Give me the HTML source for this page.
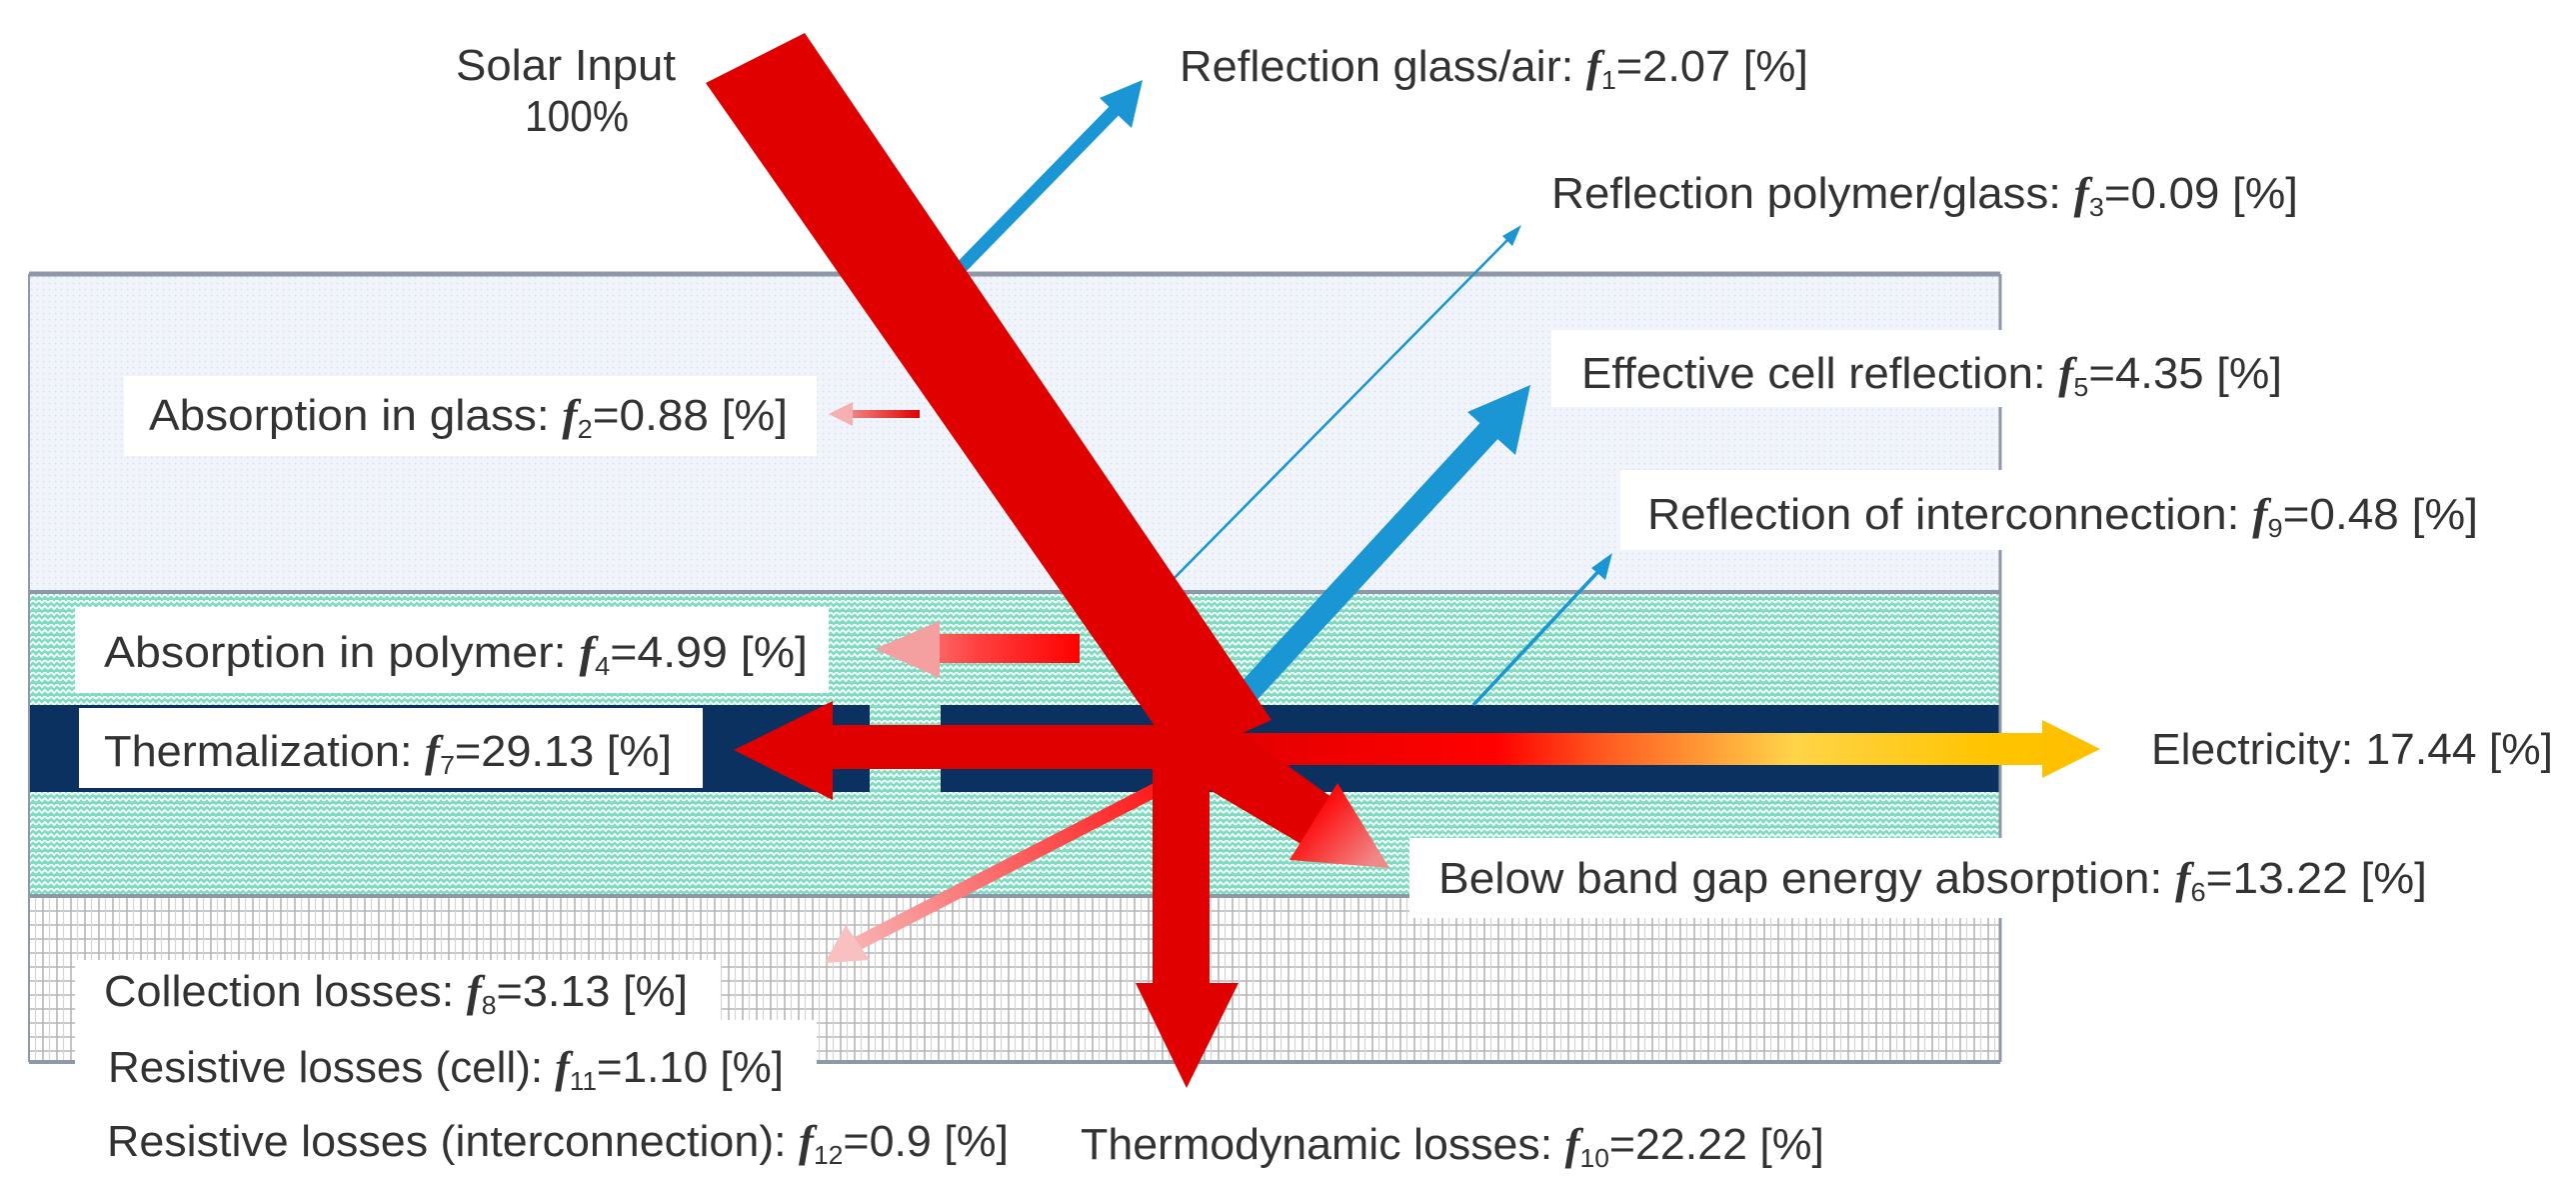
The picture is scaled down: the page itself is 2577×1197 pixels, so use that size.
<!DOCTYPE html>
<html><head><meta charset="utf-8"><style>
html,body{margin:0;padding:0;background:#fff;}
svg{display:block;}
text{font-family:"Liberation Sans",sans-serif;fill:#333;font-size:44px;}
</style></head><body>
<svg width="2577" height="1197" viewBox="0 0 2577 1197" xmlns="http://www.w3.org/2000/svg">
<defs>
<pattern id="dots" width="6" height="6" patternUnits="userSpaceOnUse"><rect width="6" height="6" fill="#f1f5fb"/><circle cx="1.5" cy="1.5" r="1" fill="#d8e3f0"/></pattern>
<pattern id="hatch" width="12" height="12" patternUnits="userSpaceOnUse"><rect width="12" height="12" fill="#7fdcc0"/><path d="M0 3 L3 0 L6 3 L9 0 L12 3 M0 9 L3 6 L6 9 L9 6 L12 9" stroke="#fff" stroke-width="1.8" fill="none"/></pattern>
<pattern id="grid" width="14" height="14" patternUnits="userSpaceOnUse"><rect width="14" height="14" fill="#fff"/><path d="M0 1 H14 M1 0 V14" stroke="#b5b5b5" stroke-width="1.6"/><path d="M7.5 0 V14" stroke="#d5d5d5" stroke-width="1.2"/></pattern>
<linearGradient id="elec" x1="1200" y1="0" x2="2100" y2="0" gradientUnits="userSpaceOnUse">
<stop offset="0" stop-color="#e00000"/><stop offset="0.33" stop-color="#ff0000"/><stop offset="0.45" stop-color="#ff5a20"/><stop offset="0.66" stop-color="#ffd448"/><stop offset="0.88" stop-color="#ffc400"/><stop offset="1" stop-color="#ffc000"/></linearGradient>
<linearGradient id="poly" x1="875" y1="0" x2="1080" y2="0" gradientUnits="userSpaceOnUse"><stop offset="0" stop-color="#f4a0a0"/><stop offset="0.5" stop-color="#ff4040"/><stop offset="1" stop-color="#ff0000"/></linearGradient>
<linearGradient id="glassg" x1="829" y1="0" x2="920" y2="0" gradientUnits="userSpaceOnUse"><stop offset="0" stop-color="#f6b0b0"/><stop offset="1" stop-color="#e00000"/></linearGradient>
<linearGradient id="coll" x1="1180" y1="780" x2="825" y2="963" gradientUnits="userSpaceOnUse"><stop offset="0" stop-color="#ff1010"/><stop offset="1" stop-color="#f8c0c0"/></linearGradient>
<linearGradient id="bigh" x1="1310" y1="810" x2="1370" y2="865" gradientUnits="userSpaceOnUse"><stop offset="0" stop-color="#ff0000"/><stop offset="1" stop-color="#f08888"/></linearGradient>
</defs>
<!-- layers -->
<rect x="29" y="274" width="1972" height="318" fill="url(#dots)"/>
<rect x="29" y="592" width="1972" height="304" fill="url(#hatch)"/>
<rect x="29" y="896" width="1972" height="166" fill="url(#grid)"/>
<rect x="29" y="705" width="841" height="87" fill="#0b3160"/>
<rect x="941" y="705" width="1060" height="87" fill="#0b3160"/>
<line x1="2001" y1="274" x2="2001" y2="1062" stroke="#8e98a6" stroke-width="3"/>
<line x1="29" y1="274" x2="29" y2="1062" stroke="#8e98a6" stroke-width="2"/>
<line x1="29" y1="274" x2="2001" y2="274" stroke="#8e98a6" stroke-width="5"/>
<line x1="29" y1="592" x2="2001" y2="592" stroke="#8e98a6" stroke-width="4"/>
<line x1="29" y1="896" x2="2001" y2="896" stroke="#8e98a6" stroke-width="4"/>
<line x1="29" y1="1062" x2="2001" y2="1062" stroke="#8e98a6" stroke-width="4"/>
<!-- label boxes -->
<rect x="124" y="376" width="693" height="80" fill="#fff"/>
<rect x="75" y="607" width="754" height="86" fill="#fff"/>
<rect x="79" y="708" width="624" height="80" fill="#fff"/>
<rect x="1552" y="330" width="1000" height="77" fill="#fff"/>
<rect x="1621" y="470" width="930" height="80" fill="#fff"/>
<rect x="1410" y="838" width="1060" height="80" fill="#fff"/>
<rect x="75" y="960" width="646" height="60" fill="#fff"/>
<rect x="75" y="1020" width="742" height="80" fill="#fff"/>
<!-- blue arrows -->
<line x1="955" y1="274" x2="1125" y2="100" stroke="#1a96d4" stroke-width="13"/>
<polygon points="1143,80 1132,128 1100,98" fill="#1a96d4"/>
<line x1="1161" y1="592" x2="1515" y2="233" stroke="#1a96d4" stroke-width="2.5"/>
<polygon points="1522,225 1513,246 1503,236" fill="#1a96d4"/>
<line x1="1232" y1="710" x2="1495" y2="425" stroke="#1a96d4" stroke-width="24"/>
<polygon points="1531,385 1516,455 1468,412" fill="#1a96d4"/>
<line x1="1474" y1="705" x2="1605" y2="565" stroke="#1a96d4" stroke-width="3.5"/>
<polygon points="1613,553 1606,580 1592,568" fill="#1a96d4"/>
<!-- absorption arrows -->
<rect x="850" y="410" width="70" height="8" fill="url(#glassg)"/>
<polygon points="829,414 853,402 853,426" fill="#f6b0b0"/>
<rect x="935" y="634" width="145" height="29" fill="url(#poly)"/>
<polygon points="875,649 940,621 940,678" fill="#f4a0a0"/>
<!-- collection -->
<line x1="1185" y1="775" x2="855" y2="945" stroke="url(#coll)" stroke-width="14"/>
<polygon points="825,963 846,925 870,960" fill="#f8c0c0"/>
<!-- thermalization -->
<rect x="830" y="725" width="380" height="44" fill="#e00000"/>
<polygon points="734,750 833,701 833,800" fill="#e00000"/>
<!-- electricity -->
<rect x="1200" y="733" width="845" height="32" fill="url(#elec)"/>
<polygon points="2101,749 2043,720 2043,778" fill="#ffc000"/>
<!-- down -->
<rect x="1153" y="750" width="57" height="235" fill="#e00000"/>
<polygon points="1136,983 1239,983 1187,1088" fill="#e00000"/>
<!-- big arrow -->
<polygon points="805,33 706,83 1172,750 1210,790 1305,846 1340,803 1243,733 1272,720" fill="#e00000"/>
<polygon points="1338,783 1290,860 1390,868" fill="url(#bigh)"/>
<!-- texts -->
<text x="566" y="80" text-anchor="middle" textLength="220" lengthAdjust="spacingAndGlyphs">Solar Input</text>
<text x="577" y="131" text-anchor="middle" textLength="104" lengthAdjust="spacingAndGlyphs">100%</text>
<text x="1180" y="81" textLength="629" lengthAdjust="spacingAndGlyphs">Reflection glass/air: <tspan font-style="italic" font-weight="bold" font-family="Liberation Serif">f</tspan><tspan font-size="26" dy="8">1</tspan><tspan dy="-8">=2.07 [%]</tspan></text>
<text x="1552" y="208" textLength="747" lengthAdjust="spacingAndGlyphs">Reflection polymer/glass: <tspan font-style="italic" font-weight="bold" font-family="Liberation Serif">f</tspan><tspan font-size="26" dy="8">3</tspan><tspan dy="-8">=0.09 [%]</tspan></text>
<text x="1582" y="388" textLength="701" lengthAdjust="spacingAndGlyphs">Effective cell reflection: <tspan font-style="italic" font-weight="bold" font-family="Liberation Serif">f</tspan><tspan font-size="26" dy="8">5</tspan><tspan dy="-8">=4.35 [%]</tspan></text>
<text x="1648" y="529" textLength="831" lengthAdjust="spacingAndGlyphs">Reflection of interconnection: <tspan font-style="italic" font-weight="bold" font-family="Liberation Serif">f</tspan><tspan font-size="26" dy="8">9</tspan><tspan dy="-8">=0.48 [%]</tspan></text>
<text x="149" y="430" textLength="639" lengthAdjust="spacingAndGlyphs">Absorption in glass: <tspan font-style="italic" font-weight="bold" font-family="Liberation Serif">f</tspan><tspan font-size="26" dy="8">2</tspan><tspan dy="-8">=0.88 [%]</tspan></text>
<text x="104" y="667" textLength="704" lengthAdjust="spacingAndGlyphs">Absorption in polymer: <tspan font-style="italic" font-weight="bold" font-family="Liberation Serif">f</tspan><tspan font-size="26" dy="8">4</tspan><tspan dy="-8">=4.99 [%]</tspan></text>
<text x="104" y="766" textLength="568" lengthAdjust="spacingAndGlyphs">Thermalization: <tspan font-style="italic" font-weight="bold" font-family="Liberation Serif">f</tspan><tspan font-size="26" dy="8">7</tspan><tspan dy="-8">=29.13 [%]</tspan></text>
<text x="2152" y="764" textLength="402" lengthAdjust="spacingAndGlyphs">Electricity: 17.44 [%]</text>
<text x="1439" y="893" textLength="989" lengthAdjust="spacingAndGlyphs">Below band gap energy absorption: <tspan font-style="italic" font-weight="bold" font-family="Liberation Serif">f</tspan><tspan font-size="26" dy="8">6</tspan><tspan dy="-8">=13.22 [%]</tspan></text>
<text x="104" y="1006" textLength="584" lengthAdjust="spacingAndGlyphs">Collection losses: <tspan font-style="italic" font-weight="bold" font-family="Liberation Serif">f</tspan><tspan font-size="26" dy="8">8</tspan><tspan dy="-8">=3.13 [%]</tspan></text>
<text x="108" y="1082" textLength="676" lengthAdjust="spacingAndGlyphs">Resistive losses (cell): <tspan font-style="italic" font-weight="bold" font-family="Liberation Serif">f</tspan><tspan font-size="26" dy="8">11</tspan><tspan dy="-8">=1.10 [%]</tspan></text>
<text x="107" y="1156" textLength="902" lengthAdjust="spacingAndGlyphs">Resistive losses (interconnection): <tspan font-style="italic" font-weight="bold" font-family="Liberation Serif">f</tspan><tspan font-size="26" dy="8">12</tspan><tspan dy="-8">=0.9 [%]</tspan></text>
<text x="1081" y="1159" textLength="744" lengthAdjust="spacingAndGlyphs">Thermodynamic losses: <tspan font-style="italic" font-weight="bold" font-family="Liberation Serif">f</tspan><tspan font-size="26" dy="8">10</tspan><tspan dy="-8">=22.22 [%]</tspan></text>
</svg>
</body></html>
